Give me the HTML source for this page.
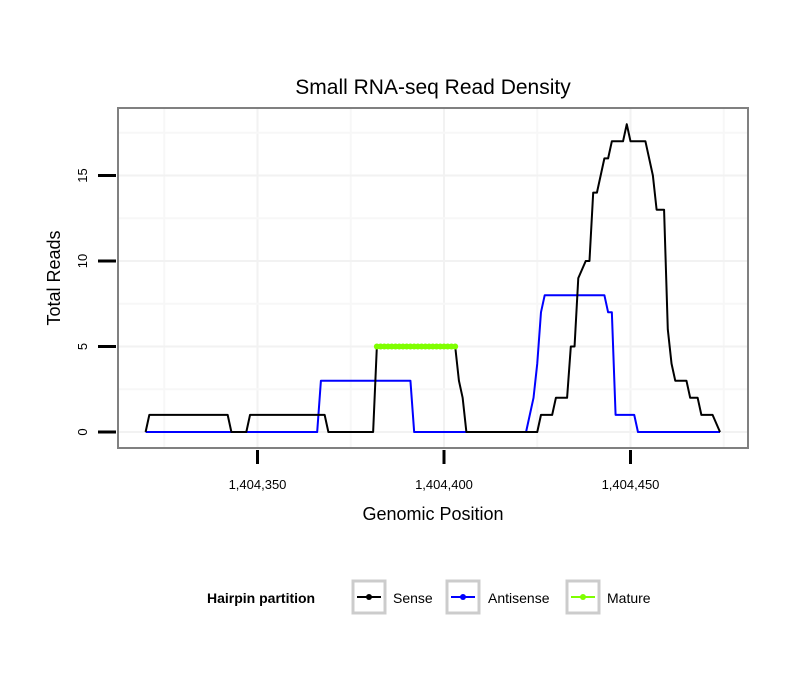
<!DOCTYPE html>
<html><head><meta charset="utf-8"><style>
body{margin:0;background:#fff;}
svg text{font-family:"Liberation Sans",sans-serif;}
</style></head><body>
<svg id="chart" width="810" height="690" xmlns="http://www.w3.org/2000/svg">
<rect x="0" y="0" width="810" height="690" fill="#fff"/>
<text x="433" y="94" font-size="21" text-anchor="middle">Small RNA-seq Read Density</text>
<g id="grid"></g>
<g id="series"></g>
<rect x="118" y="108" width="630" height="340" fill="none" stroke="#808080" stroke-width="2"/>
<g id="axes"></g>
<text x="433" y="520" font-size="18" text-anchor="middle">Genomic Position</text>
<text transform="translate(60,278) rotate(-90)" font-size="18" text-anchor="middle">Total Reads</text>
<g>
<text x="207" y="603" font-size="14" font-weight="bold">Hairpin partition</text>
<g>
<rect x="353" y="581" width="32" height="32" fill="#fff" stroke="#ccc" stroke-width="3"/>
<line x1="357" y1="597" x2="381" y2="597" stroke="#000" stroke-width="2"/><circle cx="369" cy="597" r="3" fill="#000"/>
<text x="393" y="603" font-size="14">Sense</text></g>
<g>
<rect x="447" y="581" width="32" height="32" fill="#fff" stroke="#ccc" stroke-width="3"/>
<line x1="451" y1="597" x2="475" y2="597" stroke="#0000ff" stroke-width="2"/><circle cx="463" cy="597" r="3" fill="#0000ff"/>
<text x="488" y="603" font-size="14">Antisense</text></g>
<g>
<rect x="567" y="581" width="32" height="32" fill="#fff" stroke="#ccc" stroke-width="3"/>
<line x1="571" y1="597" x2="595" y2="597" stroke="#7fff00" stroke-width="2"/><circle cx="583" cy="597" r="3" fill="#7fff00"/>
<text x="607" y="603" font-size="14">Mature</text></g>
</g>
</svg>
<script>
const xTicks = [1404350, 1404400, 1404450];
const xTickLabels = ["1,404,350", "1,404,400", "1,404,450"];
const yTicks = [0, 5, 10, 15];
const yTickLabels = ["0", "5", "10", "15"];
const sensePos = [1404320,1404321,1404342,1404343,1404347,1404348,1404368,1404369,1404381,1404382,1404403,1404404,1404405,1404406,1404425,1404426,1404429,1404430,1404433,1404434,1404435,1404436,1404438,1404439,1404440,1404441,1404443,1404444,1404445,1404448,1404449,1404450,1404454,1404456,1404457,1404459,1404460,1404461,1404462,1404465,1404466,1404468,1404469,1404472,1404474];
const senseVal = [0,1,1,0,0,1,1,0,0,5,5,3,2,0,0,1,1,2,2,5,5,9,10,10,14,14,16,16,17,17,18,17,17,15,13,13,6,4,3,3,2,2,1,1,0];
const antiPos = [1404320,1404366,1404367,1404391,1404392,1404422,1404424,1404425,1404426,1404427,1404443,1404444,1404445,1404446,1404451,1404452,1404474];
const antiVal = [0,0,3,3,0,0,2,4,7,8,8,7,7,1,1,0,0];
const maturePos = [1404382,1404383,1404384,1404385,1404386,1404387,1404388,1404389,1404390,1404391,1404392,1404393,1404394,1404395,1404396,1404397,1404398,1404399,1404400,1404401,1404402,1404403];
const matureVal = [5,5,5,5,5,5,5,5,5,5,5,5,5,5,5,5,5,5,5,5,5,5];

const NS = "http://www.w3.org/2000/svg";
function xs(p){ return 444 + (p - 1404400) * 3.73; }
function ys(v){ return 432 - v * 17.1; }
function mk(tag, attrs, parent){ const e=document.createElementNS(NS,tag); for(const k in attrs) e.setAttribute(k,attrs[k]); parent.appendChild(e); return e; }

const grid = document.getElementById('grid');
for (let i = 0; i < xTicks.length; i++) {
  const l = mk('line',{x1:xs(xTicks[i]),x2:xs(xTicks[i]),y1:109,y2:447,stroke:'#f2f2f2','stroke-width':2},grid);
  
  
}
[1404325,1404375,1404425,1404475].forEach(p=>{
  const l = mk('line',{x1:xs(p),x2:xs(p),y1:109,y2:447,stroke:'#f7f7f7','stroke-width':2},grid);
  
  
});
for (let i = 0; i < yTicks.length; i++) {
  const l = mk('line',{x1:119,x2:747,y1:ys(yTicks[i]),y2:ys(yTicks[i]),stroke:'#f2f2f2','stroke-width':2},grid);
  
  
}
[2.5,7.5,12.5,17.5].forEach(v=>{
  const l = mk('line',{x1:119,x2:747,y1:ys(v),y2:ys(v),stroke:'#f7f7f7','stroke-width':2},grid);
  
  
});

const axes = document.getElementById('axes');
for (let i = 0; i < xTicks.length; i++) {
  const t = mk('line',{x1:xs(xTicks[i]),x2:xs(xTicks[i]),y1:450,y2:464,stroke:'#000','stroke-width':3},axes);
  
  
  const tx = mk('text',{x:xs(xTicks[i]),y:489,'font-size':13,'text-anchor':'middle'},axes);
  tx.textContent = xTickLabels[i];
  
  
}
for (let i = 0; i < yTicks.length; i++) {
  const t = mk('line',{x1:98,x2:116,y1:ys(yTicks[i]),y2:ys(yTicks[i]),stroke:'#000','stroke-width':3},axes);
  
  
  const y = ys(yTicks[i]);
  const tx = mk('text',{x:0,y:0,'font-size':13,'text-anchor':'middle',transform:`translate(87,${y}) rotate(-90)`},axes);
  tx.textContent = yTickLabels[i];
  
  
}

const series = document.getElementById('series');
function pts(P,V){ return P.map((p,i)=>xs(p)+','+ys(V[i])).join(' '); }
const a = mk('polyline',{points:pts(antiPos,antiVal),fill:'none',stroke:'#0000ff','stroke-width':2,'stroke-linejoin':'round'},series);


const s = mk('polyline',{points:pts(sensePos,senseVal),fill:'none',stroke:'#000','stroke-width':2,'stroke-linejoin':'round'},series);


const m = mk('polyline',{points:pts(maturePos,matureVal),fill:'none',stroke:'#7fff00','stroke-width':3},series);


for (let i = 0; i < maturePos.length; i++) {
  const c = mk('circle',{cx:xs(maturePos[i]),cy:ys(matureVal[i]),r:3,fill:'#7fff00'},series);
  
  
}
</script>
</body></html>
